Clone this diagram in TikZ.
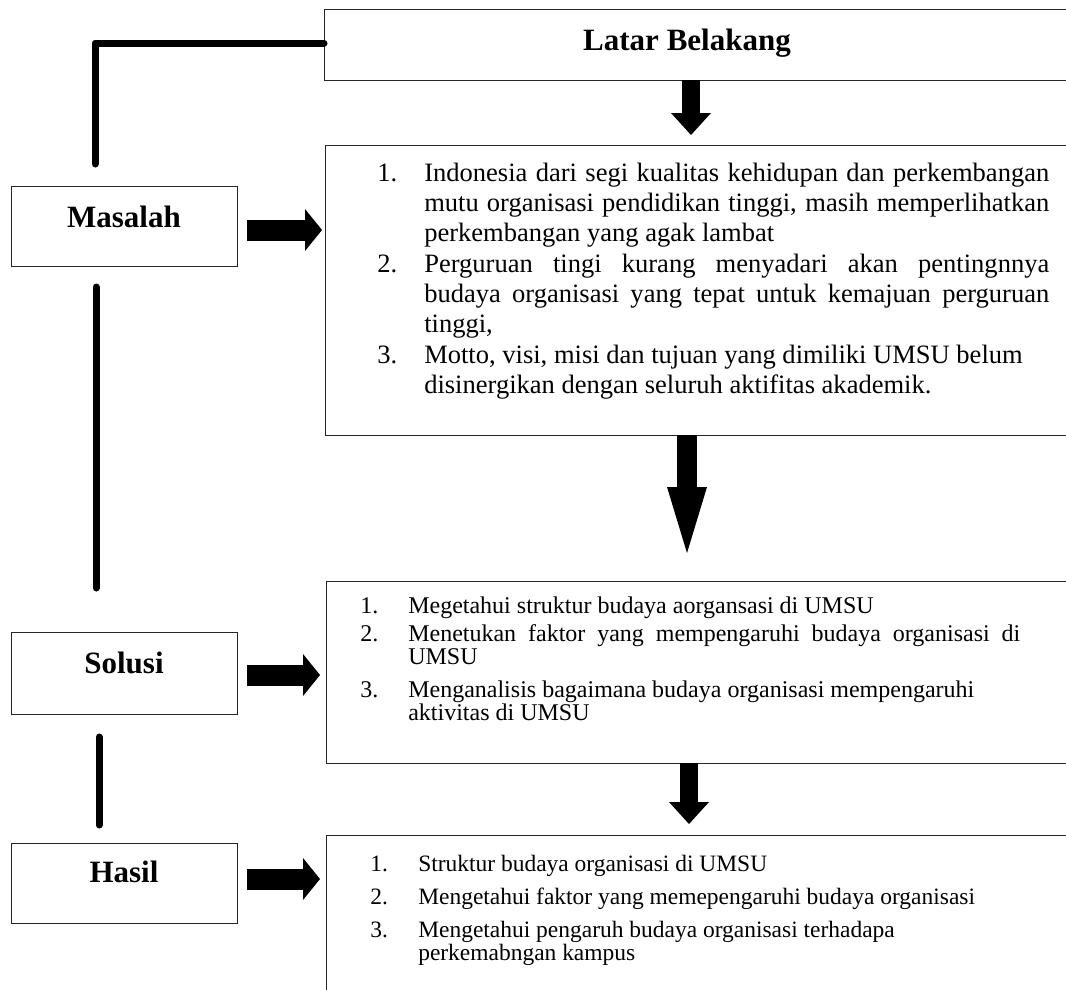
\documentclass[tikz,border=0pt]{standalone}
\usepackage{fontspec}
\setmainfont{Liberation Serif}
\usetikzlibrary{arrows.meta}
\newlength{\pxu}\setlength{\pxu}{0.75pt}
\begin{document}
\begin{tikzpicture}[x=0.75pt,y=-0.75pt,
  box/.style={draw=black!85,line width=1pt,inner sep=0,rectangle,anchor=north west},
  lbl/.style={inner sep=0,anchor=base,font=\fontsize{23.25pt}{28pt}\selectfont\bfseries},
  link/.style={line width=5.25pt,line cap=round,line join=round},
  blockdown/.style={line width=13.5pt,-{Triangle[length=16.5pt,width=30pt,line width=0pt]}},
  blocklong/.style={line width=15pt,-{Triangle[length=49.5pt,width=30pt,line width=0pt]}},
  blockright/.style={line width=15.75pt,-{Triangle[length=12.75pt,width=31.5pt,line width=0pt]}},
  txt/.style={inner sep=0,anchor=base west}
]
\path[use as bounding box] (0,0) rectangle (1066,989);
\clip (0,0) rectangle (1066,989);

% right-hand boxes
\node[box,minimum width=766\pxu,minimum height=71\pxu] (lb) at (324,9) {};
\node[lbl] (lbT) at (687,50) {Latar Belakang};
\node[box,minimum width=765\pxu,minimum height=290\pxu] (b1) at (325,145) {};
\node[box,minimum width=764\pxu,minimum height=182\pxu] (b2) at (326,581) {};
\node[box,minimum width=764\pxu,minimum height=175\pxu] (b3) at (326,835) {};

% left-hand boxes
\node[box,minimum width=226\pxu,minimum height=80\pxu] (mas) at (11,186) {};
\node[lbl] (masT) at (124,227) {Masalah};
\node[box,minimum width=226\pxu,minimum height=82\pxu] (sol) at (11,632) {};
\node[lbl] (solT) at (124,673) {Solusi};
\node[box,minimum width=226\pxu,minimum height=80\pxu] (has) at (11,843) {};
\node[lbl] (hasT) at (124,882) {Hasil};

% box texts
\node[txt,font=\fontsize{19.9pt}{22.5pt}\selectfont] (t1) at (377,181) {%
\begin{tabular}[t]{@{}l@{}l@{}}
\makebox[47\pxu][l]{1.} & \makebox[625\pxu][s]{Indonesia dari segi kualitas kehidupan dan perkembangan}\\
 & \makebox[625\pxu][s]{mutu organisasi pendidikan tinggi, masih memperlihatkan}\\
 & perkembangan yang agak lambat\\[0.75pt]
\makebox[47\pxu][l]{2.} & \makebox[625\pxu][s]{Perguruan tingi kurang menyadari akan pentingnnya}\\
 & \makebox[625\pxu][s]{budaya organisasi yang tepat untuk kemajuan perguruan}\\
 & tinggi,\\[0.75pt]
\makebox[47\pxu][l]{3.} & Motto, visi, misi dan tujuan yang dimiliki UMSU belum\\
 & disinergikan dengan seluruh aktifitas akademik.
\end{tabular}};

\node[txt,font=\fontsize{18pt}{17.25pt}\selectfont] (t2) at (360,613) {%
\begin{tabular}[t]{@{}l@{}l@{}}
\makebox[48\pxu][l]{1.} & Megetahui struktur budaya aorgansasi di UMSU\\[3.75pt]
\makebox[48\pxu][l]{2.} & \makebox[612\pxu][s]{Menetukan faktor yang mempengaruhi budaya organisasi di}\\
 & UMSU\\[6.75pt]
\makebox[48\pxu][l]{3.} & Menganalisis bagaimana budaya organisasi mempengaruhi\\
 & aktivitas di UMSU
\end{tabular}};

\node[txt,font=\fontsize{17.6pt}{17.25pt}\selectfont] (t3) at (370,871) {%
\begin{tabular}[t]{@{}l@{}l@{}}
\makebox[48\pxu][l]{1.} & Struktur budaya organisasi di UMSU\\[7.5pt]
\makebox[48\pxu][l]{2.} & Mengetahui faktor yang memepengaruhi budaya organisasi\\[7.5pt]
\makebox[48\pxu][l]{3.} & Mengetahui pengaruh budaya organisasi terhadapa\\
 & perkemabngan kampus
\end{tabular}};

% arrow coordinates
\coordinate (a1s) at (691,80);
\coordinate (a1e) at (691,135);
\coordinate (a2s) at (687,435);
\coordinate (a2e) at (687,553);
\coordinate (a3s) at (689,763);
\coordinate (a3e) at (689,824);
\coordinate (rms) at (247,230);
\coordinate (rme) at (322,230);
\coordinate (rss) at (247,675);
\coordinate (rse) at (320,675);
\coordinate (rhs) at (247,879);
\coordinate (rhe) at (320,879);

\draw[blockdown] (a1s) -- (a1e);
\draw[blocklong] (a2s) -- (a2e);
\draw[blockdown] (a3s) -- (a3e);
\draw[blockright] (rms) -- (rme);
\draw[blockright] (rss) -- (rse);
\draw[blockright] (rhs) -- (rhe);

% thick left connectors
\coordinate (c1) at (95,43);
\coordinate (c1e) at (95,164);
\coordinate (c2s) at (96,287);
\coordinate (c2e) at (96,588);
\coordinate (c3s) at (99,737);
\coordinate (c3e) at (99,825);
\draw[link] (lb.west |- c1) -- (c1) -- (c1e);
\draw[link] (c2s) -- (c2e);
\draw[link] (c3s) -- (c3e);
\end{tikzpicture}
\end{document}
